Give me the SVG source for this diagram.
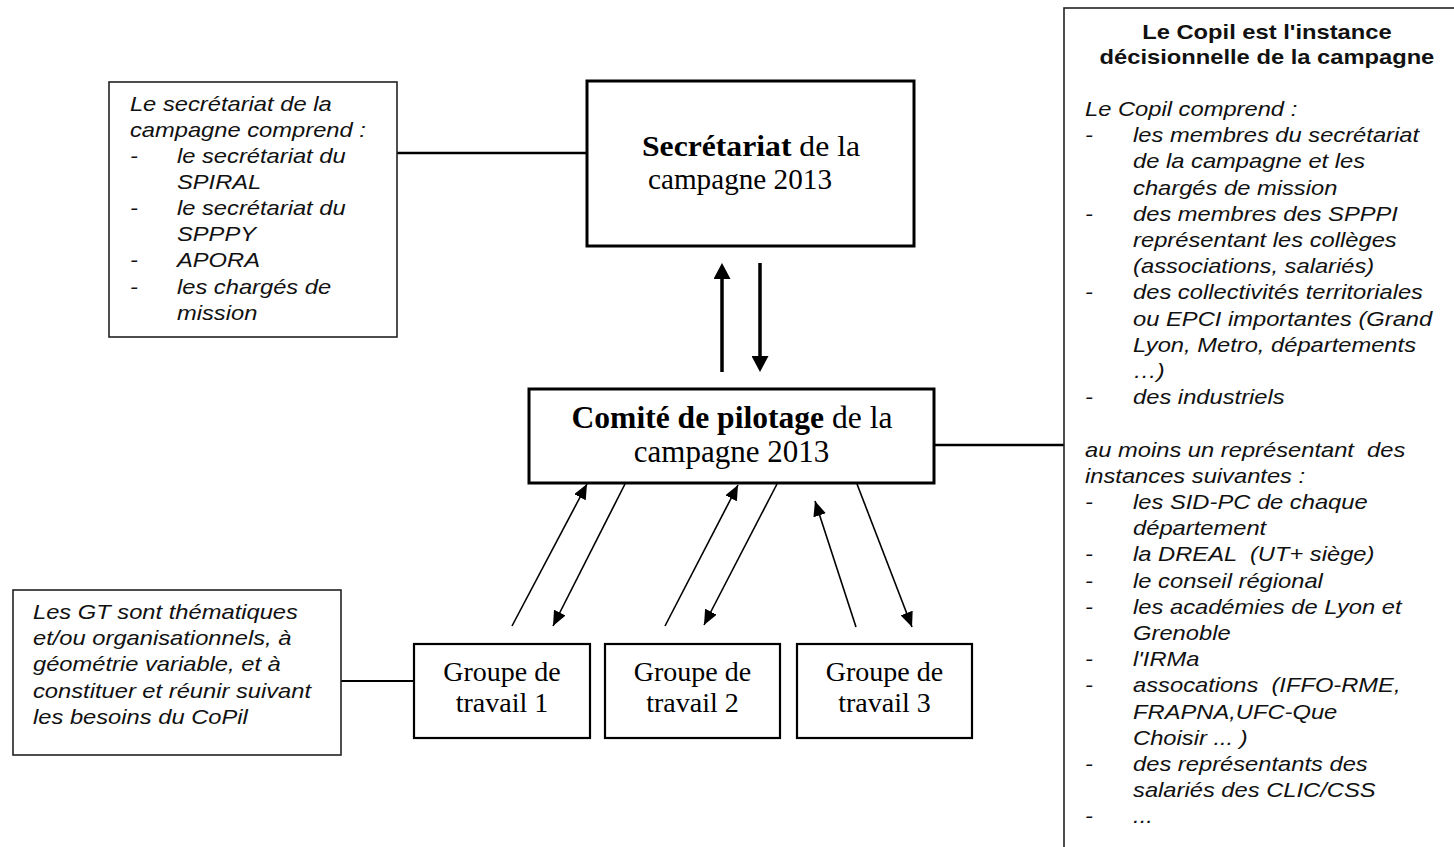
<svg xmlns="http://www.w3.org/2000/svg" width="1454" height="847" viewBox="0 0 1454 847">
<style>
.note{fill:#fff;stroke:#222;stroke-width:1.6}
.main{fill:#fff;stroke:#000;stroke-width:3}
.grp{fill:#fff;stroke:#000;stroke-width:2.2}
.it{font-family:"Liberation Sans",Arial,sans-serif;font-style:italic;font-size:21px;fill:#111;white-space:pre}
.hd{font-family:"Liberation Sans",Arial,sans-serif;font-weight:bold;font-size:21px;fill:#111;text-anchor:middle}
.tm{font-family:"Liberation Serif","Times New Roman",serif;fill:#000;text-anchor:middle}
.b{font-weight:bold}
.conn{stroke:#000;fill:none}
</style>
<defs>
<marker id="thick" markerUnits="userSpaceOnUse" markerWidth="16" markerHeight="17" refX="0" refY="8.5" orient="auto" viewBox="0 0 16 17">
<path d="M0,0 L16,8.5 L0,17 z" fill="#000"/>
</marker>
<marker id="thin" markerUnits="userSpaceOnUse" markerWidth="15" markerHeight="13" refX="15" refY="6.5" orient="auto" viewBox="0 0 15 13">
<path d="M0,0 L15,6.5 L0,13 z" fill="#000"/>
</marker>
</defs>
<rect width="1454" height="847" fill="#fff"/>

<g id="connectors">
<line class="conn" x1="397" y1="153" x2="587" y2="153" stroke-width="2.5"/>
<line class="conn" x1="934" y1="445" x2="1064" y2="445" stroke-width="2.5"/>
<line class="conn" x1="341" y1="681" x2="414" y2="681" stroke-width="2"/>
<line class="conn" x1="722" y1="372" x2="722" y2="279" stroke-width="3.5" marker-end="url(#thick)"/>
<line class="conn" x1="760" y1="263" x2="760" y2="356" stroke-width="3.5" marker-end="url(#thick)"/>
<line class="conn" x1="512" y1="626" x2="587" y2="484" stroke-width="1.6" marker-end="url(#thin)"/>
<line class="conn" x1="625" y1="484" x2="553" y2="626" stroke-width="1.6" marker-end="url(#thin)"/>
<line class="conn" x1="665" y1="626" x2="738" y2="485" stroke-width="1.6" marker-end="url(#thin)"/>
<line class="conn" x1="777" y1="484" x2="704" y2="625" stroke-width="1.6" marker-end="url(#thin)"/>
<line class="conn" x1="856" y1="627" x2="815" y2="501" stroke-width="1.6" marker-end="url(#thin)"/>
<line class="conn" x1="857" y1="484" x2="912" y2="627" stroke-width="1.6" marker-end="url(#thin)"/>
</g>

<g id="note-secretariat">
<rect class="note" x="109" y="82" width="288" height="255"/>
<g transform="scale(1.13,1)">
<text class="it" x="115" y="111">Le secrétariat de la</text>
<text class="it" x="115" y="137">campagne comprend :</text>
<text class="it" x="115" y="163">-</text><text class="it" x="156.6" y="163">le secrétariat du</text>
<text class="it" x="156.6" y="189">SPIRAL</text>
<text class="it" x="115" y="215">-</text><text class="it" x="156.6" y="215">le secrétariat du</text>
<text class="it" x="156.6" y="241">SPPPY</text>
<text class="it" x="115" y="267">-</text><text class="it" x="156.6" y="267">APORA</text>
<text class="it" x="115" y="294">-</text><text class="it" x="156.6" y="294">les chargés de</text>
<text class="it" x="156.6" y="320">mission</text>
</g>
</g>

<g id="secretariat">
<rect class="main" x="587" y="81" width="327" height="165"/>
<text class="tm" x="751" y="156" font-size="30" textLength="218" lengthAdjust="spacingAndGlyphs"><tspan class="b">Secrétariat</tspan> de la</text>
<text class="tm" x="740" y="189" font-size="30" textLength="184" lengthAdjust="spacingAndGlyphs">campagne 2013</text>
</g>

<g id="copil">
<rect class="main" x="529" y="389" width="405" height="94"/>
<text class="tm" x="732" y="428" font-size="31" textLength="321" lengthAdjust="spacingAndGlyphs"><tspan class="b">Comité de pilotage</tspan> de la</text>
<text class="tm" x="731.5" y="462" font-size="31">campagne 2013</text>
</g>

<g id="gt1">
<rect class="grp" x="414" y="644" width="176" height="94"/>
<text class="tm" x="502" y="681" font-size="28">Groupe de</text>
<text class="tm" x="502" y="712" font-size="28">travail 1</text>
</g>
<g id="gt2">
<rect class="grp" x="605" y="644" width="175" height="94"/>
<text class="tm" x="692.5" y="681" font-size="28">Groupe de</text>
<text class="tm" x="692.5" y="712" font-size="28">travail 2</text>
</g>
<g id="gt3">
<rect class="grp" x="797" y="644" width="175" height="94"/>
<text class="tm" x="884.5" y="681" font-size="28">Groupe de</text>
<text class="tm" x="884.5" y="712" font-size="28">travail 3</text>
</g>

<g id="note-gt">
<rect class="note" x="13" y="590" width="328" height="165"/>
<g transform="scale(1.13,1)">
<text class="it" x="29.2" y="619">Les GT sont thématiques</text>
<text class="it" x="29.2" y="645">et/ou organisationnels, à</text>
<text class="it" x="29.2" y="671">géométrie variable, et à</text>
<text class="it" x="29.2" y="698">constituer et réunir suivant</text>
<text class="it" x="29.2" y="724">les besoins du CoPil</text>
</g>
</g>

<g id="note-copil">
<rect class="note" x="1064" y="8" width="400" height="860"/>
<g transform="scale(1.13,1)">
<text class="hd" x="1121.2" y="39">Le Copil est l'instance</text>
<text class="hd" x="1121.2" y="64">décisionnelle de la campagne</text>
<text class="it" x="960.2" y="116">Le Copil comprend :</text>
<text class="it" x="960.2" y="142.2">-</text><text class="it" x="1002.7" y="142.2">les membres du secrétariat</text>
<text class="it" x="1002.7" y="168.4">de la campagne et les</text>
<text class="it" x="1002.7" y="194.6">chargés de mission</text>
<text class="it" x="960.2" y="220.8">-</text><text class="it" x="1002.7" y="220.8">des membres des SPPPI</text>
<text class="it" x="1002.7" y="247">représentant les collèges</text>
<text class="it" x="1002.7" y="273.2">(associations, salariés)</text>
<text class="it" x="960.2" y="299.4">-</text><text class="it" x="1002.7" y="299.4">des collectivités territoriales</text>
<text class="it" x="1002.7" y="325.6">ou EPCI importantes (Grand</text>
<text class="it" x="1002.7" y="351.8">Lyon, Metro, départements</text>
<text class="it" x="1002.7" y="378">…)</text>
<text class="it" x="960.2" y="404.2">-</text><text class="it" x="1002.7" y="404.2">des industriels</text>
<text class="it" x="960.2" y="456.6">au moins un représentant  des</text>
<text class="it" x="960.2" y="482.8">instances suivantes :</text>
<text class="it" x="960.2" y="509">-</text><text class="it" x="1002.7" y="509">les SID-PC de chaque</text>
<text class="it" x="1002.7" y="535.2">département</text>
<text class="it" x="960.2" y="561.4">-</text><text class="it" x="1002.7" y="561.4">la DREAL  (UT+ siège)</text>
<text class="it" x="960.2" y="587.6">-</text><text class="it" x="1002.7" y="587.6">le conseil régional</text>
<text class="it" x="960.2" y="613.8">-</text><text class="it" x="1002.7" y="613.8">les académies de Lyon et</text>
<text class="it" x="1002.7" y="640">Grenoble</text>
<text class="it" x="960.2" y="666.2">-</text><text class="it" x="1002.7" y="666.2">l'IRMa</text>
<text class="it" x="960.2" y="692.4">-</text><text class="it" x="1002.7" y="692.4">assocations  (IFFO-RME,</text>
<text class="it" x="1002.7" y="718.6">FRAPNA,UFC-Que</text>
<text class="it" x="1002.7" y="744.8">Choisir ... )</text>
<text class="it" x="960.2" y="771">-</text><text class="it" x="1002.7" y="771">des représentants des</text>
<text class="it" x="1002.7" y="797.2">salariés des CLIC/CSS</text>
<text class="it" x="960.2" y="823.4">-</text><text class="it" x="1002.7" y="823.4">...</text>
</g>
</g>
</svg>
